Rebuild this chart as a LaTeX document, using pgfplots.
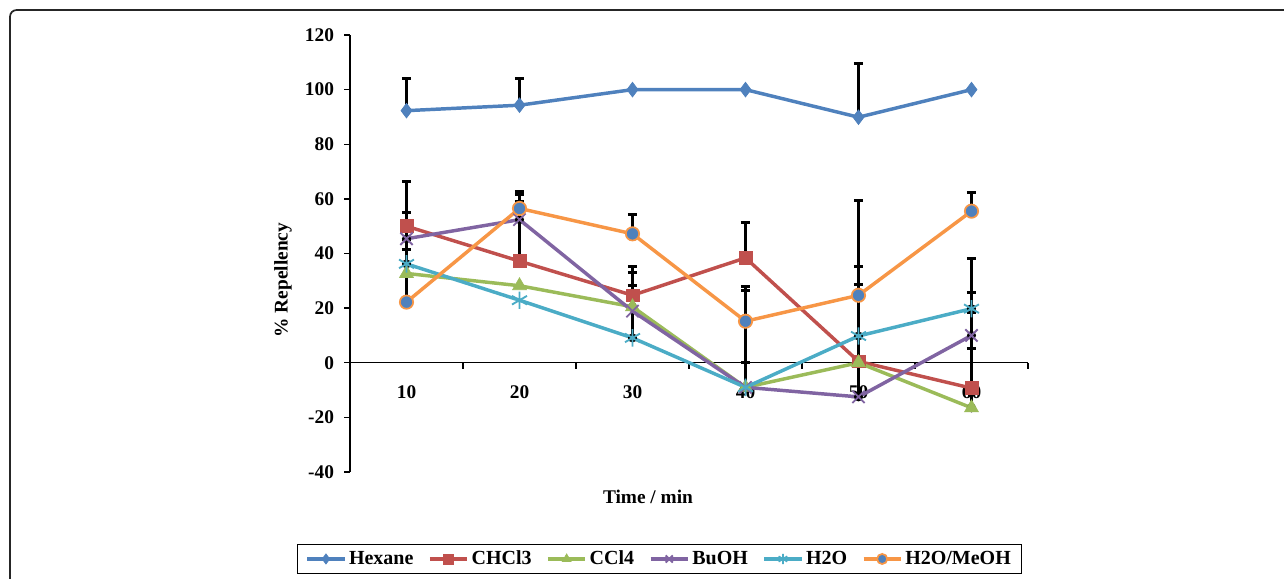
\documentclass[border=0pt]{standalone}
\usepackage{fontspec}
\setmainfont{Liberation Serif}
\usepackage{pgfplots}
\pgfplotsset{compat=1.18}
\definecolor{exblue}{HTML}{4F81BD}
\definecolor{exred}{HTML}{C0504D}
\definecolor{exgreen}{HTML}{9BBB59}
\definecolor{expurple}{HTML}{8064A2}
\definecolor{excyan}{HTML}{4BACC6}
\definecolor{exorange}{HTML}{F79646}
\begin{document}
\begin{tikzpicture}
\useasboundingbox (0,0) rectangle (963pt,-433.5pt);
\draw[line width=1.3pt, rounded corners=5pt, black!85] (975pt,-7.5pt) -- (7.5pt,-7.5pt) -- (7.5pt,-445pt);
\begin{axis}[
  at={(262.5pt,-354pt)}, anchor=south west,
  width=508.5pt, height=327.75pt, scale only axis,
  xmin=0.5, xmax=6.5, ymin=-40, ymax=120,
  axis y line*=left, axis x line*=middle,
  axis line style={line width=1.1pt, black},
  xtick={1,2,3,4,5,6},
  xticklabels={10,20,30,40,50,60},
  major x tick style={draw=none},
  ytick={-40,-20,0,20,40,60,80,100,120},
  yticklabels={-40,-20,0,20,40,60,80,100,120},
  y tick style={line width=1.1pt, black},
  tick align=outside, major tick length=4.5pt,
  ticklabel style={font=\fontsize{14.5}{16}\selectfont\bfseries},
  xticklabel style={yshift=-9pt},
  yticklabel style={xshift=-4pt},
  xlabel={Time / min},
  ylabel={\% Repellency},
  label style={font=\fontsize{14.5}{16}\selectfont\bfseries},
  xlabel style={at={(rel axis cs:0.4395,-0.0572)}, anchor=center},
  ylabel style={at={(rel axis cs:-0.099,0.439)}, anchor=center},
  clip=false,
  legend columns=6,
  legend style={at={(rel axis cs:0.4565,-0.199)}, anchor=center,
    draw=black, line width=1.1pt, font=\fontsize{15}{17}\selectfont\bfseries,
    inner xsep=6pt, inner ysep=3pt,
    /tikz/every even column/.append style={column sep=9pt}},
  legend cell align=left,
  legend image code/.code={\draw[mark repeat=2,mark phase=2, mark size=3.8pt] plot coordinates {(0pt,0pt)(14pt,0pt)(28pt,0pt)};},
  every axis plot/.append style={line width=2.6pt},
  errb/.style={black, only marks, mark=none, forget plot,
    error bars/.cd, y dir=plus, y explicit, error mark=|,
    error bar style={line width=2.2pt, black},
    error mark options={line width=2.2pt, black, mark size=3.5pt}},
]
% error bars
\addplot[errb] coordinates {(1,92.3) +- (0,11.8) (2,94.3) +- (0,9.8) (5,89.9) +- (0,19.7)};
\addplot[errb] coordinates {(1,50) +- (0,16.5) (2,37.2) +- (0,21.9) (3,24.7) +- (0,10.6) (4,38.4) +- (0,12.8) (5,0.5) +- (0,28.1) (6,-9.3) +- (0,14.4)};
\addplot[errb] coordinates {(3,20.5) +- (0,12.4) (6,-16.5) +- (0,34.8) (4,-9) +- (0,9)};
\addplot[errb] coordinates {(1,45.4) +- (0,9.7) (2,52.4) +- (0,9.2) (4,-9) +- (0,35.6) (5,-12.5) +- (0,12.5) (6,10) +- (0,15.8)};
\addplot[errb] coordinates {(1,36.2) +- (0,8.9) (3,9.1) +- (0,19.2) (5,9.8) +- (0,25.5) (6,19.8) +- (0,18.4)};
\addplot[errb] coordinates {(1,22.2) +- (0,19.3) (2,56.5) +- (0,6.3) (3,47.2) +- (0,7.1) (4,15.2) +- (0,12.8) (5,24.7) +- (0,34.8) (6,55.5) +- (0,6.9)};
% x axis tick marks between categories
\pgfplotsinvokeforeach{1.5,2.5,3.5,4.5,5.5,6.5}{\draw[line width=1.1pt, black] (axis cs:#1,0) -- ++(0pt,-4.5pt);}
% series
\addplot[color=exblue, mark=diamond*, mark size=5.5pt, mark options={fill=exblue, line width=0.5pt}]
  coordinates {(1,92.3) (2,94.3) (3,100) (4,100) (5,89.9) (6,100)};
\addlegendentry{Hexane}
\addplot[color=exred, mark=square*, mark size=4.8pt, mark options={fill=exred, line width=0.5pt}]
  coordinates {(1,50) (2,37.2) (3,24.7) (4,38.4) (5,0.5) (6,-9.3)};
\addlegendentry{CHCl3}
\addplot[color=exgreen, mark=triangle*, mark size=6pt, mark options={fill=exgreen, line width=0.5pt}]
  coordinates {(1,32.7) (2,28.2) (3,20.5) (4,-9) (5,0) (6,-16.5)};
\addlegendentry{CCl4}
\addplot[color=expurple, mark=x, mark size=6.5pt, mark options={line width=1.4pt}]
  coordinates {(1,45.4) (2,52.4) (3,18.9) (4,-9) (5,-12.5) (6,10)};
\addlegendentry{BuOH}
\addplot[color=excyan, mark=asterisk, mark size=6.5pt, mark options={line width=1.4pt}]
  coordinates {(1,36.2) (2,22.9) (3,9.1) (4,-9) (5,9.8) (6,19.8)};
\addlegendentry{H2O}
\addplot[color=exorange, mark=*, mark size=5pt, mark options={fill=exblue, draw=exorange, line width=1.3pt}]
  coordinates {(1,22.2) (2,56.5) (3,47.2) (4,15.2) (5,24.7) (6,55.5)};
\addlegendentry{H2O/MeOH}
\end{axis}
\end{tikzpicture}
\end{document}
